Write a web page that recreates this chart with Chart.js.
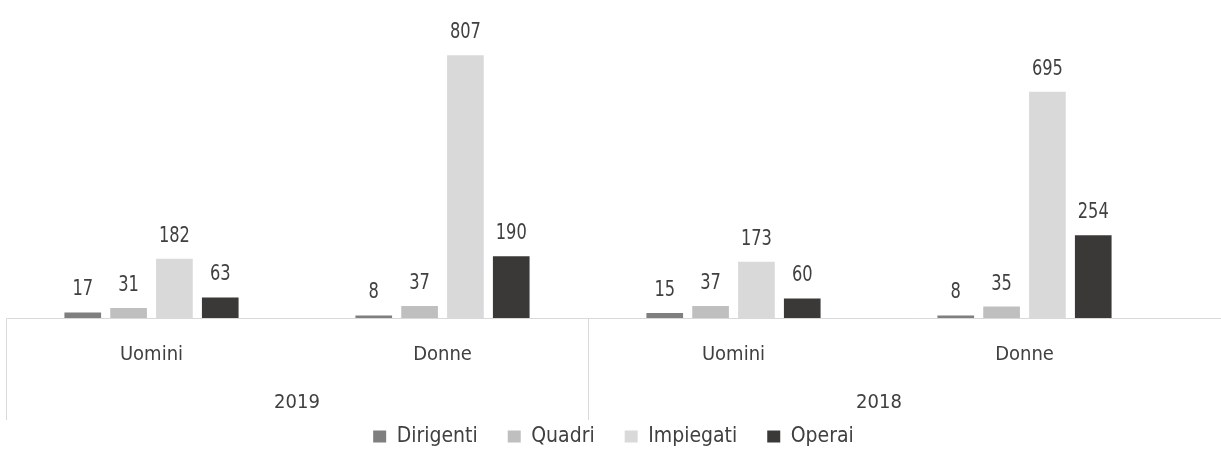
<!DOCTYPE html>
<html>
<head>
<meta charset="utf-8">
<script src="https://cdn.jsdelivr.net/npm/chart.js@4.4.1/dist/chart.umd.min.js"></script>
<style>
	html, body { margin: 0; padding: 0; background: #fff; }
	#wrap { width: 1221px; height: 469px; }
</style>
</head>
<body>
<div id="wrap"><canvas id="staffChart"></canvas></div>
<script>
// categories (inner level) and years (outer level)
const categories = ['Uomini', 'Donne', 'Uomini', 'Donne'];
const years = ['2019', '2018'];

// headcount per role
const dirigenti = [17, 8, 15, 8];
const quadri = [31, 37, 37, 35];
const impiegati = [182, 807, 173, 695];
const operai = [63, 190, 60, 254];

const seriesNames = ['Dirigenti', 'Quadri', 'Impiegati', 'Operai'];
const seriesColors = ['#7f7f7f', '#bfbfbf', '#d9d9d9', '#3b3838'];

const fontFamily = '"DejaVu Sans Condensed", "DejaVu Sans", sans-serif';
const textColor = '#404040';
const axisColor = '#d9d9d9';

Chart.defaults.font.family = fontFamily;
Chart.defaults.color = textColor;

// value on top of every bar (squeezed a bit, the source font is narrow)
const valueLabels = {
	id: 'valueLabels',
	afterDatasetsDraw(chart) {
		const { ctx } = chart;
		ctx.save();
		ctx.font = '22px ' + fontFamily;
		ctx.fillStyle = textColor;
		ctx.textAlign = 'center';
		ctx.textBaseline = 'alphabetic';
		chart.data.datasets.forEach((ds, i) => {
			chart.getDatasetMeta(i).data.forEach((bar, j) => {
				ctx.save();
				ctx.translate(bar.x, bar.y - 17);
				ctx.scale(0.82, 1);
				ctx.fillText(String(ds.data[j]), 0, 0);
				ctx.restore();
			});
		});
		ctx.restore();
	}
};

// baseline, the separators between the year groups and the year labels
const axisFrame = {
	id: 'axisFrame',
	afterDraw(chart) {
		const { ctx, chartArea } = chart;
		const yr = chart.scales.year;
		const half = (yr.getPixelForValue(1) - yr.getPixelForValue(0)) / 2;
		const left = Math.round(yr.getPixelForValue(0) - half) + 0.5;
		const mid = Math.round(yr.getPixelForValue(0) + half) + 0.5;
		const base = Math.round(chartArea.bottom) + 0.5;

		ctx.save();
		ctx.strokeStyle = axisColor;
		ctx.lineWidth = 1;
		ctx.beginPath();
		ctx.moveTo(left, base);
		ctx.lineTo(chart.width, base);
		[left, mid].forEach(x => {
			ctx.moveTo(x, base);
			ctx.lineTo(x, yr.top + 52);
		});
		ctx.stroke();

		ctx.font = '20px ' + fontFamily;
		ctx.fillStyle = textColor;
		ctx.textAlign = 'center';
		ctx.textBaseline = 'middle';
		years.forEach((label, i) => {
			ctx.fillText(label, yr.getPixelForValue(i), yr.top + 35);
		});
		ctx.restore();
	}
};

const datasets = [dirigenti, quadri, impiegati, operai].map((values, i) => ({
	label: seriesNames[i],
	data: values,
	backgroundColor: seriesColors[i],
	borderWidth: 0,
	categoryPercentage: 0.63,
	barPercentage: 0.8
}));

new Chart(document.getElementById('staffChart'), {
	type: 'bar',
	data: { labels: categories, datasets: datasets },
	options: {
		responsive: true,
		maintainAspectRatio: false,
		animation: false,
		layout: { padding: { left: 6, right: 0, top: 25, bottom: 12 } },
		plugins: {
			legend: {
				position: 'bottom',
				labels: {
					boxWidth: 13,
					boxHeight: 12,
					padding: 30,
					color: textColor,
					font: { size: 21 }
				}
			},
			tooltip: { enabled: false }
		},
		scales: {
			x: {
				position: 'bottom',
				weight: 0,
				grid: { display: false, drawTicks: false },
				border: { display: false },
				ticks: { padding: 25, font: { size: 20 }, color: textColor },
				afterFit(s) { s.height = 50; }
			},
			year: {
				type: 'category',
				axis: 'x',
				labels: years,
				position: 'bottom',
				weight: 1,
				offset: true,
				grid: { display: false, drawTicks: false },
				border: { display: false },
				ticks: { display: false },
				afterFit(s) { s.height = 28; }
			},
			y: {
				position: 'right',
				min: 0,
				max: 900,
				grid: { display: false },
				border: { display: false },
				ticks: { display: false },
				afterFit(s) { s.width = 51; }
			}
		}
	},
	plugins: [valueLabels, axisFrame]
});
</script>
</body>
</html>
